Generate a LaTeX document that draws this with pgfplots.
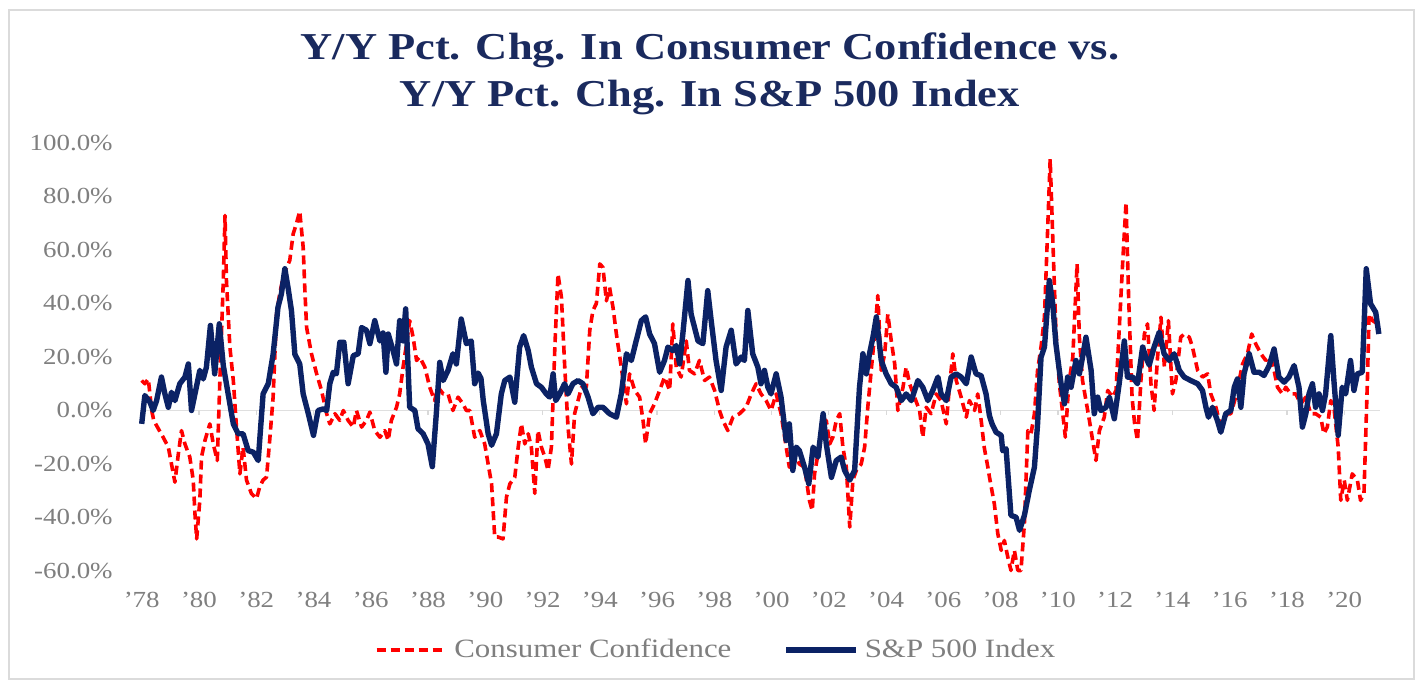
\documentclass[border=0pt]{standalone}
\usepackage{fontspec}
\setmainfont[FakeStretch=1.17]{Liberation Serif}
\usepackage{pgfplots}
\pgfplotsset{compat=1.18}
\definecolor{navy}{HTML}{0B2265}
\definecolor{ttl}{HTML}{1A2A5E}
\definecolor{tickgray}{HTML}{7F7F7F}
\definecolor{ccred}{HTML}{FF0000}

\pgfplotstableread{
x y
1978.00 -5.0
1978.11 5.6
1978.29 3.1
1978.40 0.0
1978.52 3.7
1978.69 12.5
1978.81 6.2
1978.93 1.2
1979.04 6.8
1979.16 3.7
1979.33 10.0
1979.51 12.5
1979.63 17.4
1979.74 0.0
1979.86 6.2
1980.03 15.0
1980.15 11.8
1980.26 16.2
1980.40 31.8
1980.55 13.7
1980.71 32.4
1980.85 16.8
1981.02 6.2
1981.20 -5.0
1981.37 -8.7
1981.54 -8.7
1981.72 -15.0
1981.90 -15.6
1982.07 -18.7
1982.24 6.2
1982.42 10.0
1982.59 21.0
1982.76 38.6
1982.88 43.6
1983.00 53.0
1983.11 46.0
1983.23 37.4
1983.35 21.0
1983.52 17.4
1983.64 6.2
1983.82 -1.2
1984.00 -9.3
1984.16 0.0
1984.34 0.6
1984.46 0.0
1984.57 10.0
1984.69 14.3
1984.80 13.7
1984.92 25.5
1985.06 25.5
1985.21 10.0
1985.39 20.5
1985.56 21.2
1985.68 31.0
1985.85 30.0
1985.97 25.0
1986.14 33.6
1986.32 26.0
1986.43 29.0
1986.53 14.3
1986.61 28.6
1986.78 22.4
1986.90 17.4
1987.01 33.6
1987.13 26.0
1987.22 38.0
1987.36 1.2
1987.54 0.0
1987.65 -6.8
1987.83 -8.7
1988.00 -12.5
1988.15 -21.0
1988.29 -1.2
1988.41 18.0
1988.53 11.2
1988.70 15.0
1988.87 21.2
1988.99 17.4
1989.16 34.2
1989.34 25.0
1989.51 26.0
1989.63 10.0
1989.75 14.0
1989.85 12.0
1989.93 3.7
1990.10 -8.7
1990.22 -13.0
1990.39 -8.7
1990.56 6.2
1990.68 11.2
1990.86 12.5
1991.03 3.1
1991.20 23.7
1991.34 28.0
1991.50 22.4
1991.61 16.2
1991.79 10.0
1991.96 8.7
1992.13 6.2
1992.25 5.0
1992.37 13.7
1992.46 3.7
1992.60 6.2
1992.77 10.0
1992.89 6.2
1993.06 10.0
1993.24 11.2
1993.41 10.0
1993.59 5.0
1993.76 -1.2
1993.94 1.2
1994.11 1.2
1994.34 -1.2
1994.58 -2.5
1994.75 6.2
1994.93 21.2
1995.10 18.7
1995.27 26.0
1995.45 33.6
1995.60 35.0
1995.74 28.6
1995.91 25.0
1996.09 14.3
1996.26 18.7
1996.38 23.7
1996.55 22.4
1996.67 24.3
1996.79 17.4
1996.90 28.6
1997.08 48.6
1997.19 36.0
1997.31 31.0
1997.43 26.0
1997.60 25.0
1997.77 44.8
1997.89 33.6
1998.06 18.7
1998.24 7.5
1998.41 23.7
1998.59 30.0
1998.76 17.4
1998.94 20.0
1999.05 18.7
1999.17 37.4
1999.34 21.2
1999.52 16.2
1999.63 10.0
1999.75 15.0
1999.87 8.7
1999.98 6.2
2000.16 13.7
2000.33 5.0
2000.51 -11.2
2000.62 -5.0
2000.74 -22.4
2000.86 -13.7
2000.97 -15.0
2001.15 -21.2
2001.30 -27.4
2001.45 -13.7
2001.62 -17.4
2001.80 -1.2
2001.91 -12.5
2002.09 -25.0
2002.26 -18.7
2002.43 -17.4
2002.55 -22.4
2002.73 -26.0
2002.90 -22.4
2003.07 8.7
2003.19 21.2
2003.31 13.7
2003.42 21.2
2003.54 27.4
2003.66 35.0
2003.83 18.7
2004.00 13.7
2004.18 10.0
2004.35 8.7
2004.53 3.7
2004.70 6.2
2004.88 3.7
2005.11 11.2
2005.28 8.7
2005.46 3.7
2005.63 7.5
2005.81 12.5
2005.92 6.2
2006.10 3.7
2006.27 12.5
2006.45 13.7
2006.62 12.5
2006.80 10.0
2006.97 20.0
2007.14 13.7
2007.32 13.0
2007.49 6.2
2007.61 -2.0
2007.70 -5.0
2007.84 -8.1
2008.02 -9.3
2008.07 -15.0
2008.19 -14.3
2008.36 -39.2
2008.54 -39.9
2008.66 -44.8
2008.83 -39.2
2009.00 -29.9
2009.18 -21.2
2009.29 -5.0
2009.41 19.9
2009.53 23.7
2009.70 48.6
2009.82 39.9
2009.93 24.9
2010.11 10.0
2010.23 2.5
2010.34 12.5
2010.46 8.7
2010.63 18.7
2010.75 13.7
2010.86 19.9
2010.98 27.4
2011.16 15.0
2011.27 -1.2
2011.39 5.0
2011.50 0.0
2011.68 1.2
2011.80 5.0
2011.97 -3.1
2012.14 10.0
2012.32 26.0
2012.43 12.5
2012.61 12.5
2012.78 10.0
2012.96 23.7
2013.07 19.9
2013.19 17.0
2013.36 23.7
2013.54 29.3
2013.71 21.2
2013.89 18.7
2014.06 21.2
2014.24 15.0
2014.41 12.5
2014.64 11.2
2014.88 10.0
2015.05 7.5
2015.17 1.2
2015.26 -2.5
2015.40 1.2
2015.57 -3.7
2015.69 -8.1
2015.86 -1.2
2016.04 0.0
2016.16 8.7
2016.27 11.8
2016.39 1.2
2016.50 13.7
2016.68 21.2
2016.85 14.3
2017.03 14.3
2017.20 13.1
2017.38 16.8
2017.55 23.0
2017.72 12.5
2017.90 10.6
2018.07 12.5
2018.25 16.8
2018.42 8.7
2018.54 -6.2
2018.66 -1.2
2018.77 6.2
2018.89 10.0
2019.00 1.2
2019.12 6.2
2019.24 0.0
2019.35 6.2
2019.53 28.0
2019.64 11.2
2019.79 -9.3
2019.93 8.7
2020.05 6.2
2020.22 18.7
2020.34 7.5
2020.46 13.7
2020.63 14.3
2020.77 53.0
2020.92 39.9
2021.10 36.7
2021.21 28.6
}\spx

\pgfplotstableread{
x y
1978.00 11.2
1978.11 10.0
1978.23 11.8
1978.35 0.0
1978.42 -3.7
1978.58 -6.8
1978.75 -10.0
1978.93 -13.7
1979.04 -20.0
1979.16 -26.8
1979.28 -16.2
1979.39 -7.5
1979.51 -12.5
1979.68 -17.4
1979.80 -26.0
1979.86 -38.6
1979.92 -48.0
1980.03 -33.6
1980.09 -17.4
1980.21 -11.2
1980.38 -5.0
1980.50 -12.5
1980.64 -18.7
1980.73 11.2
1980.85 48.6
1980.91 72.9
1980.96 48.6
1981.08 23.7
1981.20 11.2
1981.31 -6.2
1981.43 -23.7
1981.54 -13.7
1981.66 -26.0
1981.83 -31.0
1982.01 -33.0
1982.12 -28.6
1982.24 -26.0
1982.36 -24.9
1982.47 -11.2
1982.59 5.0
1982.71 36.0
1982.82 43.6
1982.94 49.8
1983.06 53.5
1983.17 56.0
1983.29 66.0
1983.40 69.7
1983.52 74.5
1983.64 61.0
1983.70 44.8
1983.76 31.0
1983.93 21.2
1984.11 13.7
1984.28 7.5
1984.46 -1.2
1984.57 -5.0
1984.75 -1.2
1984.92 -3.7
1985.04 0.0
1985.21 -3.7
1985.39 -6.2
1985.50 0.0
1985.68 -6.2
1985.85 -3.7
1985.97 -0.6
1986.14 -7.5
1986.32 -10.0
1986.49 -7.5
1986.61 -11.2
1986.72 -3.7
1986.90 1.2
1987.01 6.2
1987.13 16.2
1987.25 25.0
1987.36 33.6
1987.48 27.4
1987.60 18.7
1987.71 20.0
1987.89 16.2
1988.06 8.7
1988.23 3.7
1988.35 8.7
1988.53 6.2
1988.70 6.2
1988.87 0.0
1989.05 5.0
1989.22 2.5
1989.34 0.0
1989.46 0.0
1989.63 -10.0
1989.81 -7.5
1989.98 -12.5
1990.10 -20.0
1990.22 -27.4
1990.33 -47.3
1990.45 -47.3
1990.62 -48.0
1990.74 -32.4
1990.86 -27.4
1991.03 -25.0
1991.15 -13.7
1991.26 -5.0
1991.38 -12.5
1991.50 -8.7
1991.61 -13.7
1991.73 -31.0
1991.84 -7.5
1991.96 -13.7
1992.08 -17.4
1992.19 -22.4
1992.31 -13.7
1992.43 23.7
1992.54 51.0
1992.66 42.3
1992.77 17.4
1992.89 -6.2
1993.01 -20.0
1993.12 -1.2
1993.24 3.7
1993.36 8.7
1993.53 8.7
1993.65 30.0
1993.76 37.4
1993.88 40.0
1994.00 54.8
1994.11 53.5
1994.23 41.0
1994.34 46.0
1994.46 38.6
1994.58 28.6
1994.75 16.2
1994.93 2.5
1995.04 13.7
1995.22 7.5
1995.39 5.0
1995.51 -3.7
1995.60 -12.5
1995.74 -1.2
1995.91 2.5
1996.09 7.5
1996.26 12.5
1996.44 7.5
1996.55 32.4
1996.67 16.2
1996.84 12.5
1997.02 26.0
1997.13 15.0
1997.31 13.7
1997.48 18.7
1997.66 11.2
1997.83 12.5
1998.01 7.5
1998.18 0.0
1998.30 -3.7
1998.47 -7.5
1998.65 -2.5
1998.88 -1.2
1999.11 1.2
1999.29 6.2
1999.46 10.0
1999.63 6.2
1999.81 3.7
1999.98 0.0
2000.16 6.2
2000.33 -1.2
2000.51 -13.7
2000.62 -21.2
2000.80 -16.2
2000.97 -20.0
2001.15 -21.2
2001.32 -33.6
2001.42 -37.4
2001.50 -23.7
2001.56 -20.0
2001.74 -8.7
2001.91 -3.7
2002.03 -12.5
2002.14 -10.0
2002.26 -3.7
2002.38 -1.2
2002.49 -13.7
2002.61 -21.2
2002.73 -43.6
2002.84 -26.0
2002.96 -22.4
2003.13 -20.0
2003.25 -13.7
2003.36 1.2
2003.48 15.0
2003.60 28.6
2003.71 43.0
2003.83 15.0
2003.95 21.2
2004.06 36.0
2004.18 26.0
2004.30 17.4
2004.41 0.0
2004.59 8.7
2004.70 16.2
2004.82 10.0
2004.99 5.0
2005.17 0.0
2005.28 -10.0
2005.40 1.2
2005.57 -1.2
2005.75 6.2
2005.92 3.7
2006.10 -5.0
2006.21 8.7
2006.33 21.2
2006.45 11.2
2006.62 5.0
2006.80 -2.5
2006.91 3.7
2007.09 0.0
2007.20 6.2
2007.32 -3.7
2007.43 -14.0
2007.55 -21.0
2007.61 -24.9
2007.78 -34.9
2007.90 -46.0
2008.02 -52.3
2008.13 -48.6
2008.25 -54.8
2008.36 -59.8
2008.48 -52.3
2008.60 -59.8
2008.71 -59.8
2008.83 -42.3
2008.95 -7.5
2009.06 -8.7
2009.18 -1.2
2009.29 15.0
2009.41 23.7
2009.53 34.9
2009.64 67.2
2009.73 94.0
2009.82 64.8
2009.93 29.9
2010.05 10.0
2010.17 -1.2
2010.26 -10.0
2010.38 10.0
2010.52 19.9
2010.67 54.8
2010.75 27.4
2010.86 11.2
2010.98 3.7
2011.10 -3.7
2011.27 -14.9
2011.33 -18.7
2011.45 -7.5
2011.62 -2.5
2011.74 7.5
2011.91 5.0
2012.03 7.5
2012.14 29.9
2012.26 54.8
2012.38 77.8
2012.47 42.3
2012.59 5.0
2012.68 -5.0
2012.78 -11.2
2012.90 11.2
2013.02 28.6
2013.13 32.4
2013.25 10.0
2013.36 0.0
2013.48 19.9
2013.60 34.9
2013.72 16.2
2013.86 33.6
2014.00 6.2
2014.12 11.2
2014.29 27.4
2014.41 28.6
2014.59 27.4
2014.70 23.7
2014.88 15.0
2015.05 12.5
2015.23 13.7
2015.34 6.2
2015.52 1.2
2015.63 -3.7
2015.75 -5.0
2015.92 -1.2
2016.04 -1.2
2016.21 5.0
2016.33 11.2
2016.45 17.4
2016.62 21.2
2016.77 28.6
2016.91 24.9
2017.09 21.2
2017.26 18.7
2017.43 20.0
2017.55 15.0
2017.67 8.7
2017.84 6.2
2017.96 8.7
2018.13 6.2
2018.31 6.2
2018.48 2.5
2018.66 5.0
2018.83 -1.2
2019.00 -1.2
2019.18 -2.5
2019.29 -8.7
2019.41 -6.2
2019.53 3.7
2019.64 1.2
2019.79 -13.7
2019.88 -33.6
2020.00 -26.0
2020.11 -33.6
2020.28 -23.7
2020.46 -26.0
2020.57 -33.6
2020.69 -31.0
2020.81 11.2
2020.87 36.0
2020.99 33.6
2021.16 32.4
}\cci

\begin{document}
\begin{tikzpicture}
\useasboundingbox (0,0) rectangle (709.5pt,-341.5pt);
\fill[white] (0,0) rectangle (709.5pt,-341.5pt);
\draw[gray!28, line width=1.4pt] (4.5pt,-5pt) rectangle (707pt,-339.5pt);
\node[anchor=base, text=ttl, inner sep=0pt, font=\fontsize{19}{22}\selectfont\bfseries] at (355pt,-30pt) {Y/Y Pct. Chg. In Consumer Confidence vs.};
\node[anchor=base, text=ttl, inner sep=0pt, font=\fontsize{19}{22}\selectfont\bfseries] at (355pt,-53.5pt) {Y/Y Pct. Chg. In S\&P 500 Index};
\begin{axis}[
  at={(70.85pt,-285.5pt)}, anchor=south west,
  scale only axis, width=619.15pt, height=214pt,
  xmin=1978, xmax=2021.25, ymin=-60, ymax=100,
  axis line style={draw=none},
  ytick={-60,-40,-20,0,20,40,60,80,100},
  yticklabels={-60.0\%,-40.0\%,-20.0\%,0.0\%,20.0\%,40.0\%,60.0\%,80.0\%,100.0\%},
  xtick={1978,1980,1982,1984,1986,1988,1990,1992,1994,1996,1998,2000,2002,2004,2006,2008,2010,2012,2014,2016,2018,2020},
  xticklabels={'78,'80,'82,'84,'86,'88,'90,'92,'94,'96,'98,'00,'02,'04,'06,'08,'10,'12,'14,'16,'18,'20},
  major tick length=0pt,
  tick label style={font=\fontsize{11.5}{13}\selectfont, text=tickgray},
  yticklabel style={xshift=-11pt},
  xticklabel style={yshift=-7pt},
  clip=false,
  legend columns=2,
  legend style={draw=none, fill=none, at={(0.4646,0)}, anchor=center, yshift=-39.5pt,
    font=\fontsize{13.2}{15}\selectfont, text=tickgray,
    /tikz/every even column/.append style={column sep=24pt},
    /tikz/every odd column/.append style={column sep=1pt}},
  legend image code/.code={\draw[#1, line cap=butt] (0pt,0pt) -- (35pt,0pt);},
]
\draw[gray!25, line width=0.8pt] (axis cs:1978,0) -- (axis cs:2021.25,0);
\pgfplotsinvokeforeach{1980,1982,1984,1986,1988,1990,1992,1994,1996,1998,2000,2002,2004,2006,2008,2010,2012,2014,2016,2018,2020}{
  \draw[gray!30, line width=0.6pt] (axis cs:#1,0) -- (axis cs:#1,-1.5);
}
\addplot[ccred, line width=1.8pt, dash pattern=on 4.5pt off 2.5pt, line join=round] table[x=x,y=y] {\cci};
\addlegendentry{Consumer Confidence}
\addplot[navy, line width=2.7pt, line join=round] table[x=x,y=y] {\spx};
\addlegendentry{S\&P 500 Index}
\end{axis}
\end{tikzpicture}
\end{document}
